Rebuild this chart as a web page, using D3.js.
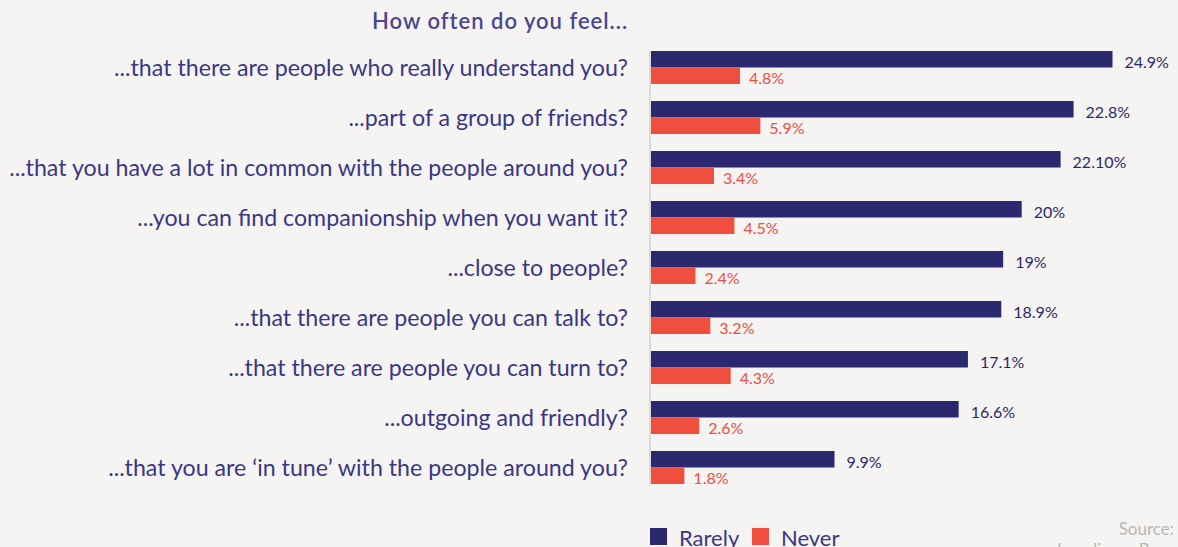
<!DOCTYPE html>
<html>
<head>
<meta charset="utf-8">
<script src="https://cdn.jsdelivr.net/npm/d3@7"></script>
<style>
  html, body { margin: 0; padding: 0; background: #f5f4f2; overflow: hidden; }
  svg { display: block; font-family: Lato, 'Open Sans', sans-serif; }
</style>
</head>
<body>
<svg id="chart"></svg>
<script>
const categories = [
  '...that there are people who really understand you?',
  '...part of a group of friends?',
  '...that you have a lot in common with the people around you?',
  '...you can find companionship when you want it?',
  '...close to people?',
  '...that there are people you can talk to?',
  '...that there are people you can turn to?',
  '...outgoing and friendly?',
  '...that you are \u2018in tune\u2019 with the people around you?'
];
const series = ['Rarely', 'Never'];
const rarely = [24.9, 22.8, 22.1, 20, 19, 18.9, 17.1, 16.6, 9.9];
const never = [4.8, 5.9, 3.4, 4.5, 2.4, 3.2, 4.3, 2.6, 1.8];
const rarelyLabels = ['24.9%', '22.8%', '22.10%', '20%', '19%', '18.9%', '17.1%', '16.6%', '9.9%'];
const neverLabels = ['4.8%', '5.9%', '3.4%', '4.5%', '2.4%', '3.2%', '4.3%', '2.6%', '1.8%'];

const width = 1178, height = 547;
const colors = { Rarely: '#2c2870', Never: '#f04e3e' };
const textColor = '#3a3784';

const svg = d3.select('#chart').attr('width', width).attr('height', height);

const x = d3.scaleLinear().domain([0, 24.9]).range([651, 1112.5]);
const y = d3.scaleBand().domain(categories).range([51, 484]).paddingInner(0.34).paddingOuter(0);
const ySub = d3.scaleBand().domain(series).range([0, y.bandwidth()]);

const rows = categories.map((c, i) => ({
  cat: c,
  values: [
    { key: 'Rarely', value: rarely[i], label: rarelyLabels[i] },
    { key: 'Never', value: never[i], label: neverLabels[i] }
  ]
}));

// title
svg.append('text')
  .attr('x', 372).attr('y', 29)
  .attr('fill', '#4a4690')
  .attr('font-size', 22).attr('font-weight', 600)
  .attr('letter-spacing', 1)
  .text('How often do you feel...');

// axis line
svg.append('line')
  .attr('x1', 650).attr('x2', 650)
  .attr('y1', y.range()[0]).attr('y2', y.range()[1] + 1)
  .attr('stroke', '#dcdad7').attr('stroke-width', 2);

const group = svg.append('g')
  .selectAll('g')
  .data(rows)
  .join('g')
  .attr('transform', d => `translate(0,${y(d.cat)})`);

group.append('text')
  .attr('x', 628)
  .attr('y', y.bandwidth() / 2 - 1)
  .attr('text-anchor', 'end')
  .attr('dominant-baseline', 'central')
  .attr('fill', textColor)
  .attr('font-size', 23.2)
  .text(d => d.cat);

group.selectAll('rect')
  .data(d => d.values)
  .join('rect')
  .attr('x', x(0))
  .attr('y', d => ySub(d.key))
  .attr('width', d => x(d.value) - x(0))
  .attr('height', ySub.bandwidth())
  .attr('fill', d => colors[d.key]);

group.selectAll('text.val')
  .data(d => d.values)
  .join('text')
  .attr('class', 'val')
  .attr('x', d => x(d.value) + (d.key === 'Rarely' ? 12 : 9))
  .attr('y', d => ySub(d.key) + ySub.bandwidth() / 2 + 2)
  .attr('dominant-baseline', 'central')
  .attr('fill', d => d.key === 'Rarely' ? '#2c2870' : '#f04e3e')
  .attr('font-size', 16)
  .text(d => d.label);

// legend
const legend = svg.append('g')
  .selectAll('g')
  .data(series)
  .join('g')
  .attr('transform', (d, i) => `translate(${650 + i * 102},528)`);

legend.append('rect')
  .attr('width', 17).attr('height', 17)
  .attr('fill', d => colors[d]);

legend.append('text')
  .attr('x', 29).attr('y', 18)
  .attr('fill', textColor)
  .attr('font-size', 22)
  .text(d => d);

// source
svg.append('text')
  .attr('x', 1174).attr('y', 535)
  .attr('text-anchor', 'end')
  .attr('fill', '#b9b7b5')
  .attr('font-size', 17)
  .text('Source:');

svg.append('text')
  .attr('x', 1057).attr('y', 556)
  .attr('fill', '#b9b7b5')
  .attr('font-size', 17)
  .text('Loneliness Barometer');
</script>
</body>
</html>
